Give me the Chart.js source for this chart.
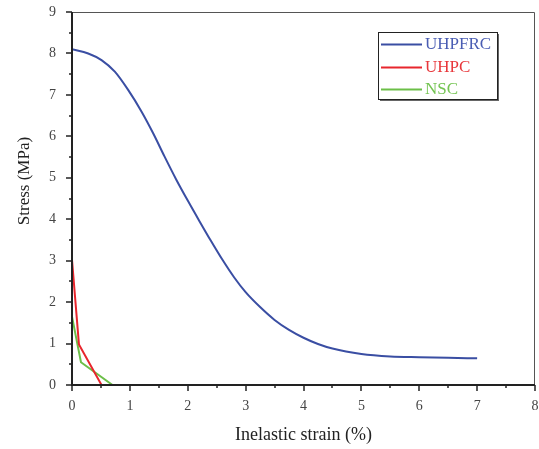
<!DOCTYPE html>
<html>
<head>
<meta charset="utf-8">
<script src="https://cdn.jsdelivr.net/npm/chart.js@4/dist/chart.umd.min.js"></script>
<style>
html,body{margin:0;padding:0;background:#fff;}
#wrap{width:539px;height:449px;position:relative;}
</style>
</head>
<body>
<div id="wrap"><canvas id="c"></canvas></div>
<script>
// ---- data ----
const seriesNames = ['UHPFRC', 'UHPC', 'NSC'];
const uhpfrcX = [0, 0.28, 0.51, 0.74, 0.97, 1.2, 1.4, 1.6, 1.8, 2.0, 2.2, 2.4, 2.6, 2.8, 3.0, 3.25, 3.5, 3.75, 4.0, 4.25, 4.5, 5.0, 5.5, 6.0, 6.5, 7.0];
const uhpfrcY = [8.10, 8.00, 7.84, 7.56, 7.12, 6.60, 6.08, 5.51, 4.96, 4.45, 3.96, 3.48, 3.02, 2.60, 2.24, 1.88, 1.57, 1.33, 1.14, 0.99, 0.88, 0.75, 0.69, 0.67, 0.655, 0.645];
const uhpcX = [0, 0.12, 0.51];
const uhpcY = [3.02, 0.98, 0];
const nscX = [0, 0.155, 0.70];
const nscY = [1.65, 0.55, 0];
const xTicks = [0, 1, 2, 3, 4, 5, 6, 7, 8];
const yTicks = [0, 1, 2, 3, 4, 5, 6, 7, 8, 9];
const xTitle = 'Inelastic strain (%)';
const yTitle = 'Stress (MPa)';

const lineColors = ['#3a4ea3', '#e8262d', '#6cbf48'];
const textColors = ['#4a5db3', '#e8373b', '#74c452'];
const serif = '"Liberation Serif", "DejaVu Serif", serif';

function pts(xs, ys){ return xs.map((x,i)=>({x:x, y:ys[i]})); }

const framePlugin = {
  id: 'frame',
  afterDraw(chart){
    const ctx = chart.ctx, a = chart.chartArea;
    const xs = chart.scales.x, ys = chart.scales.y;
    ctx.save();
    ctx.strokeStyle = '#555';
    ctx.lineWidth = 1;
    ctx.beginPath();
    ctx.moveTo(a.left, a.top + 0.5); ctx.lineTo(a.right - 0.5, a.top + 0.5); ctx.lineTo(a.right - 0.5, a.bottom);
    ctx.stroke();
    ctx.strokeStyle = '#222';
    ctx.lineWidth = 2;
    ctx.beginPath();
    ctx.moveTo(a.left, a.top); ctx.lineTo(a.left, a.bottom); ctx.lineTo(a.right, a.bottom);
    ctx.stroke();
    ctx.lineWidth = 1.5;
    for (let v = xs.min; v <= xs.max + 1e-9; v += 0.5) {
      const px = Math.round(xs.getPixelForValue(v));
      const len = (Math.abs(v - Math.round(v)) < 1e-9) ? 6 : 3;
      ctx.beginPath(); ctx.moveTo(px, a.bottom); ctx.lineTo(px, a.bottom + len); ctx.stroke();
    }
    for (let v = ys.min; v <= ys.max + 1e-9; v += 0.5) {
      const py = Math.round(ys.getPixelForValue(v));
      const len = (Math.abs(v - Math.round(v)) < 1e-9) ? 6 : 3;
      ctx.beginPath(); ctx.moveTo(a.left, py); ctx.lineTo(a.left - len, py); ctx.stroke();
    }
    ctx.fillStyle = '#222';
    ctx.font = '17px ' + serif;
    ctx.textAlign = 'center';
    ctx.textBaseline = 'middle';
    ctx.translate(25, 181);
    ctx.rotate(-Math.PI/2);
    ctx.fillText(yTitle, 0, 0);
    ctx.restore();

    ctx.save();
    const bx = 378, by = 32, bw = 119, bh = 67;
    ctx.fillStyle = '#666';
    ctx.fillRect(bx + 2, by + 2, bw, bh);
    ctx.fillStyle = '#fff';
    ctx.fillRect(bx, by, bw, bh);
    ctx.strokeStyle = '#222';
    ctx.lineWidth = 1;
    ctx.strokeRect(bx + 0.5, by + 0.5, bw, bh);
    ctx.font = '17px ' + serif;
    ctx.textAlign = 'left';
    ctx.textBaseline = 'middle';
    chart.data.datasets.forEach((ds, i) => {
      const yy = 44 + i * 22.5;
      ctx.strokeStyle = ds.borderColor;
      ctx.lineWidth = 2;
      ctx.beginPath(); ctx.moveTo(381, Math.round(yy) + 0.5); ctx.lineTo(422, Math.round(yy) + 0.5); ctx.stroke();
      ctx.fillStyle = textColors[i];
      ctx.fillText(ds.label, 425, yy + 1);
    });
    ctx.restore();
  }
};

new Chart(document.getElementById('c'), {
  type: 'scatter',
  data: {
    datasets: [
      { label: seriesNames[0], data: pts(uhpfrcX, uhpfrcY), borderColor: lineColors[0], borderWidth: 2, showLine: true, pointRadius: 0, cubicInterpolationMode: 'monotone' },
      { label: seriesNames[1], data: pts(uhpcX, uhpcY), borderColor: lineColors[1], borderWidth: 2, showLine: true, pointRadius: 0 },
      { label: seriesNames[2], data: pts(nscX, nscY), borderColor: lineColors[2], borderWidth: 2, showLine: true, pointRadius: 0 }
    ]
  },
  options: {
    responsive: true,
    maintainAspectRatio: false,
    animation: false,
    layout: { padding: { left: 0, right: 0, top: 0, bottom: 0 } },
    plugins: { legend: { display: false }, tooltip: { enabled: false } },
    scales: {
      x: {
        type: 'linear', min: 0, max: 8,
        afterBuildTicks: s => { s.ticks = xTicks.map(v => ({value: v})); },
        afterFit: s => { s.height = 64; s.paddingRight = 4; s.paddingLeft = 0; },
        grid: { drawOnChartArea: false, drawTicks: false },
        border: { display: false },
        ticks: { color: '#444', font: { family: serif, size: 14 }, padding: 13, maxRotation: 0 },
        title: { display: true, text: xTitle, color: '#222', font: { family: serif, size: 18 }, padding: { top: 0, bottom: 3 } }
      },
      y: {
        type: 'linear', min: 0, max: 9,
        afterBuildTicks: s => { s.ticks = yTicks.map(v => ({value: v})); },
        afterFit: s => { s.width = 72; s.paddingTop = 12; s.paddingBottom = 0; },
        grid: { drawOnChartArea: false, drawTicks: false },
        border: { display: false },
        ticks: { color: '#444', font: { family: serif, size: 14 }, padding: 16 },
        title: { display: false }
      }
    }
  },
  plugins: [framePlugin]
});
</script>
</body>
</html>
